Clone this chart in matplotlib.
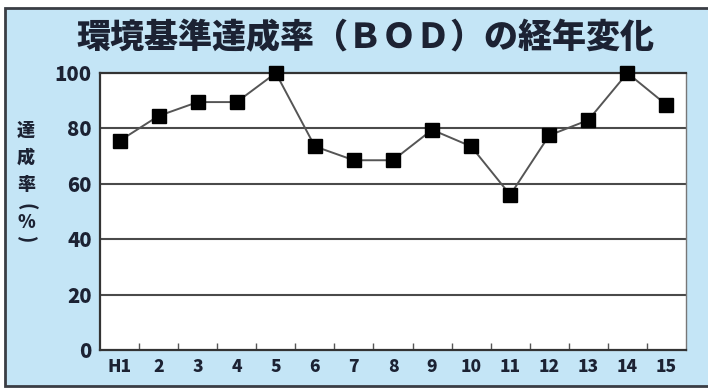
import matplotlib
matplotlib.use("Agg")
import matplotlib.pyplot as plt
from matplotlib.patches import Rectangle
from matplotlib.ticker import FixedLocator

plt.rcParams['font.family'] = ['Noto Sans CJK JP', 'DejaVu Sans']

years = ["H1", "2", "3", "4", "5", "6", "7", "8", "9", "10", "11", "12", "13", "14", "15"]
rate = [75.5, 84.5, 89.5, 89.5, 100, 73.5, 68.5, 68.5, 79.5, 73.5, 56, 77.5, 83, 100, 88.5]
yticks = [0, 20, 40, 60, 80, 100]

title = "環境基準達成率（ＢＯＤ）の経年変化"
ylabel_chars = ["達", "成", "率", "(", "%", ")"]

bg = "#c4e5f6"
ink = "#1c2233"

fig = plt.figure(figsize=(7.08, 3.89), dpi=100)
fig.patch.set_facecolor("white")

# blue panel with a dark frame (runs off the right edge)
panel = Rectangle((5 / 708, 3 / 389), 720 / 708, 378 / 389, transform=fig.transFigure,
                  facecolor=bg, edgecolor="#3a3d44", linewidth=2, zorder=-10)
fig.patches.append(panel)

ax = fig.add_axes([100 / 708, 39 / 389, 586 / 708, 277 / 389])
ax.set_zorder(5)
ax.set_facecolor("white")

x = list(range(len(years)))
ax.plot(x, rate, color="#555555", linewidth=1.4, marker="s", markersize=10,
        markerfacecolor="black", markeredgecolor="black", zorder=3, clip_on=False)

ax.set_xlim(-0.5, len(years) - 0.5)
ax.set_ylim(0, 100)

for v in yticks[1:-1]:
    ax.axhline(v, color="#4a4a4a", linewidth=1.5, zorder=1)

ax.set_yticks(yticks)
ax.set_yticklabels([str(v) for v in yticks], fontsize=14.5, fontweight="heavy", color=ink)
ax.tick_params(axis="y", length=0, pad=6)

ax.set_xticks(x)
ax.set_xticklabels(years, fontsize=12.5, fontweight="heavy", color=ink)
ax.tick_params(axis="x", which="major", length=0, pad=6)
ax.xaxis.set_minor_locator(FixedLocator([i + 0.5 for i in x[:-1]]))
ax.tick_params(axis="x", which="minor", direction="in", length=5, width=1, color="#555555")

for side in ["left", "bottom", "top"]:
    ax.spines[side].set_color("#333333")
    ax.spines[side].set_linewidth(1.6)
ax.spines["right"].set_color("#777777")
ax.spines["right"].set_linewidth(1.0)

fig.text(365 / 708, 1 - 38 / 389, title, ha="center", va="center",
         fontsize=24.5, fontweight="heavy", color=ink)

# vertical axis label, one character per line; brackets turned sideways
ys = [130, 157, 185, 207, 223, 239]
rots = [0, 0, 0, -90, 0, -90]
for ch, yy, rot in zip(ylabel_chars, ys, rots):
    fig.text(26 / 708, 1 - yy / 389, ch, ha="center", va="center", rotation=rot,
             fontsize=13, fontweight="heavy", color=ink)

fig.savefig("out.png", dpi=100, facecolor=fig.get_facecolor())
